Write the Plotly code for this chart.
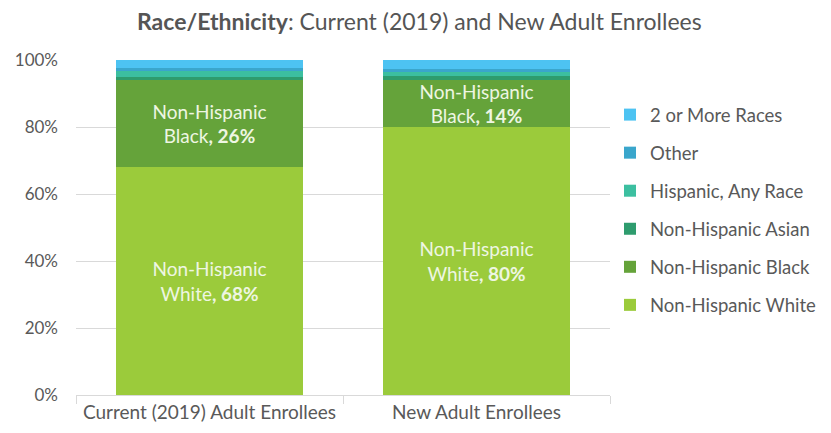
import plotly.graph_objects as go

categories = ["Current (2019) Adult Enrollees", "New Adult Enrollees"]
series_names = ["Non-Hispanic White", "Non-Hispanic Black", "Non-Hispanic Asian",
                "Hispanic, Any Race", "Other", "2 or More Races"]
white = [68, 80]
black = [26, 14]
asian = [1.0, 1.2]
hispanic = [2.0, 1.3]
other = [0.5, 0.8]
two_plus = [2.5, 2.7]
series_values = [white, black, asian, hispanic, other, two_plus]
colors = ["#9BCB3B", "#65A33A", "#2E9C6E", "#3CBFA0", "#3AA6CC", "#4DC3F2"]
tick_vals = [0, 20, 40, 60, 80, 100]
tick_text = ["0%", "20%", "40%", "60%", "80%", "100%"]

fig = go.Figure()
for i, (name, vals, col) in enumerate(zip(series_names, series_values, colors)):
    text = None
    if name == "Non-Hispanic White":
        text = [f"Non-Hispanic<br>White<b>, {v:.0f}%</b>" for v in vals]
    elif name == "Non-Hispanic Black":
        text = [f"Non-Hispanic<br>Black<b>, {v:.0f}%</b>" for v in vals]
    fig.add_trace(go.Bar(
        x=categories, y=vals, name=name, marker_color=col, marker_line_width=0,
        text=text, textposition="inside" if text else "none",
        insidetextanchor="middle",
        textfont=dict(family="Lato, Open Sans, sans-serif", size=19, color="#EEF6E2"),
        legendgroup=name, legendrank=100 - i, hoverinfo="skip",
    ))

fig.update_layout(
    barmode="stack",
    bargap=0.3,
    width=831, height=433,
    margin=dict(l=68, r=229, t=52, b=46),
    plot_bgcolor="white", paper_bgcolor="white",
    font=dict(family="Lato, Open Sans, sans-serif", color="#595959", size=16),
    title=dict(text="<b>Race/Ethnicity</b>: Current (2019) and New Adult Enrollees",
               x=0.495, xanchor="center", y=0.968, yanchor="middle",
               font=dict(size=23, color="#555555")),
    uniformtext=dict(minsize=18, mode="show"),
    legend=dict(x=1.0, xanchor="left", y=0.552, yanchor="middle",
                traceorder="grouped", tracegroupgap=11, itemwidth=30,
                font=dict(size=18.5, color="#595959")),
    showlegend=True,
)
fig.update_yaxes(range=[0, 100], tickvals=tick_vals, ticktext=tick_text,
                 showgrid=True, gridcolor="#D9D9D9", gridwidth=1,
                 zeroline=False, showline=False, ticks="", ticklen=0,
                 ticklabelstandoff=17,
                 tickfont=dict(size=17), automargin=False)
fig.update_xaxes(showline=True, linecolor="#D9D9D9", linewidth=1,
                 ticks="outside", tickson="boundaries", ticklen=8,
                 tickcolor="#D9D9D9", tickwidth=1,
                 tickfont=dict(size=19), automargin=False)

fig.write_html("out.html")
